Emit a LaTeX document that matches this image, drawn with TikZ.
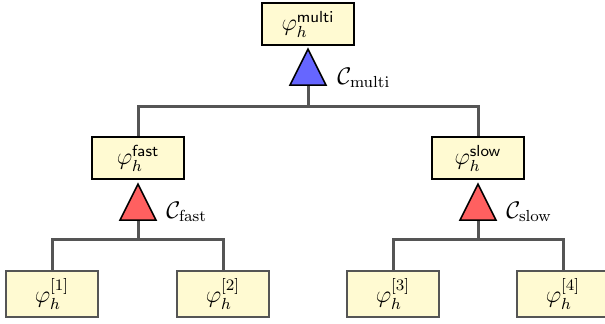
\documentclass[tikz,border=0pt]{standalone}
\usepackage{amsmath}
\usepackage{amssymb}
\usepackage{tikz}
\usetikzlibrary{positioning,shapes.geometric}
\usepackage{xcolor}

\definecolor{boxfill}{RGB}{255,250,210}
\definecolor{linegray}{RGB}{85,85,85}
\definecolor{triblue}{RGB}{102,102,255}
\definecolor{trired}{RGB}{255,96,96}

\begin{document}
\begin{tikzpicture}[x=0.5pt,y=0.5pt,yscale=-1,xscale=1,
    every node/.style={font=\large},
    parentbox/.style={draw=black,line width=1pt,fill=boxfill,minimum width=46pt,minimum height=21pt,inner sep=1pt},
    leafbox/.style={draw=linegray,line width=1pt,fill=boxfill,minimum width=46pt,minimum height=23pt,inner sep=1pt},
    combtri/.style={isosceles triangle,shape border rotate=90,isosceles triangle stretches,draw=black,line width=0.8pt,minimum width=18pt,minimum height=18pt,inner sep=0pt,anchor=apex},
    conn/.style={draw=linegray,line width=1.5pt}]
\useasboundingbox (0,0) rectangle (605,323);

% Boxes
\node [parentbox] (multi) at (308,24) {$\varphi_h^{\mathsf{multi}}$};
\node [parentbox] (fast) at (138,158) {$\varphi_h^{\mathsf{fast}}$};
\node [parentbox] (slow) at (478,158) {$\varphi_h^{\mathsf{slow}}$};
\node [leafbox] (leafa) at (52,294) {$\varphi_h^{[1]}$};
\node [leafbox] (leafb) at (223,294) {$\varphi_h^{[2]}$};
\node [leafbox] (leafc) at (393,294) {$\varphi_h^{[3]}$};
\node [leafbox] (leafd) at (563,294) {$\varphi_h^{[4]}$};

% Triangles
\node [combtri,fill=triblue] (trimulti) at (308,47) {};
\node [combtri,fill=trired] (trifast) at (138,182) {};
\node [combtri,fill=trired] (trislow) at (478,182) {};

% Text Node
\node [anchor=base west,inner sep=0pt] (cmulti) at (337,84) {$\mathcal{C}_{\mathrm{multi}}$};
\node [anchor=base west,inner sep=0pt] (cfast) at (166,218) {$\mathcal{C}_{\mathrm{fast}}$};
\node [anchor=base west,inner sep=0pt] (cslow) at (506,218) {$\mathcal{C}_{\mathrm{slow}}$};

% Bars
\coordinate (barmulti) at (308,106);
\coordinate (barfast) at (138,239);
\coordinate (barslow) at (478,239);

%Straight Lines
\draw [conn] (trimulti.south) -- (barmulti);
\draw [conn] (fast.north) |- (barmulti) -| (slow.north);
\draw [conn] (trifast.south) -- (barfast);
\draw [conn] (leafa.north) |- (barfast) -| (leafb.north);
\draw [conn] (trislow.south) -- (barslow);
\draw [conn] (leafc.north) |- (barslow) -| (leafd.north);
\end{tikzpicture}
\end{document}
